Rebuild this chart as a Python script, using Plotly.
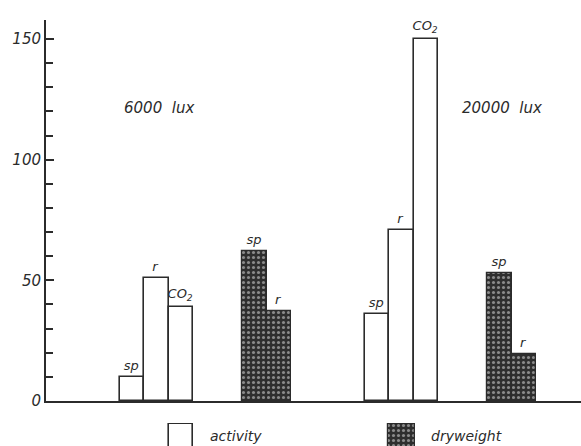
import plotly.graph_objects as go

# ---- data ----
conditions = ["6000 lux", "20000 lux"]
activity_labels = ["sp", "r", "CO<sub>2</sub>"]
activity_6000 = [10, 51, 39]
activity_20000 = [36, 71, 150]
dryweight_labels = ["sp", "r"]
dryweight_6000 = [62, 37.5]
dryweight_20000 = [53, 19.5]
y_tick_values = [0, 50, 100, 150]
legend_names = ["activity", "dryweight"]

# ---- layout helpers (slot index where each bar group starts) ----
group_start = {"activity": [3, 13], "dryweight": [8, 18]}
legend_slot = [5, 14]

INK = "#2b2b2b"
FONT = "DejaVu Sans"
H, T, B = 446, 20, 0
PLOT_H = H - T - B


def slots(starts, n):
    xs = []
    for s in starts:
        xs += [s + i + 0.5 for i in range(n)]
    return xs


act_x = slots(group_start["activity"], len(activity_labels))
act_y = activity_6000 + activity_20000
act_t = activity_labels * 2

dry_x = slots(group_start["dryweight"], len(dryweight_labels))
dry_y = dryweight_6000 + dryweight_20000
dry_t = dryweight_labels * 2

act_marker = dict(color="white", line=dict(color=INK, width=1.6))
dry_marker = dict(color="#2e2e2e", line=dict(color=INK, width=1.2),
                  pattern=dict(shape=".", fgcolor="#e8e8e8", bgcolor="#2e2e2e",
                               size=5, solidity=0.3, fillmode="overlay"))
label_font = dict(family=FONT, size=13, color=INK, style="italic")

fig = go.Figure()
fig.add_trace(go.Bar(
    x=act_x, y=act_y, text=act_t, name="activity", showlegend=False,
    width=1, textposition="outside", constraintext="none", cliponaxis=False,
    textfont=label_font, marker=act_marker,
))
fig.add_trace(go.Bar(
    x=dry_x, y=dry_y, text=dry_t, name="dryweight", showlegend=False,
    width=1, textposition="outside", constraintext="none", cliponaxis=False,
    textfont=label_font, marker=dry_marker,
))

# legend swatches (drawn as bars on a small axis below the chart)
for slot, name, mk, w in zip(legend_slot, legend_names, [act_marker, dry_marker], [1.0, 1.1]):
    fig.add_trace(go.Bar(x=[slot + 0.5], y=[1.2], base=[-0.2], width=w, marker=mk,
                         xaxis="x2", yaxis="y2", showlegend=False, hoverinfo="skip"))
    fig.add_annotation(x=slot + 0.5 + w / 2 + 0.6, y=0.45, xref="x2", yref="y2",
                       text=name, showarrow=False, xanchor="left",
                       font=dict(family=FONT, size=14, color=INK, style="italic"))

label_x = [4.6, 18.6]
for cx, txt in zip(label_x, conditions):
    fig.add_annotation(x=cx, y=121.5, text=txt.replace(" ", "  "), showarrow=False,
                       font=dict(family=FONT, size=15, color=INK, style="italic"))

x_range = [0, 535 / 24.5]
fig.update_layout(
    width=581, height=H,
    margin=dict(l=46, r=0, t=T, b=B, autoexpand=False),
    paper_bgcolor="white", plot_bgcolor="white",
    barmode="overlay", bargap=0,
    font=dict(family=FONT, color=INK),
    showlegend=False,
    xaxis=dict(range=x_range, showline=True, linecolor=INK, linewidth=2,
               showticklabels=False, ticks="", showgrid=False, zeroline=False,
               fixedrange=True, anchor="y"),
    yaxis=dict(domain=[45 / PLOT_H, 1], range=[0, 381 / 2.413], showline=True,
               linecolor=INK, linewidth=2,
               tickvals=y_tick_values, ticks="inside", ticklen=8, tickwidth=2,
               tickcolor=INK, showgrid=False, zeroline=False,
               tickfont=dict(family=FONT, size=15, color=INK, style="italic"),
               minor=dict(dtick=10, tick0=0, ticks="inside", ticklen=7, tickwidth=2,
                          tickcolor=INK, showgrid=False)),
    xaxis2=dict(range=x_range, anchor="y2", visible=False, fixedrange=True),
    yaxis2=dict(domain=[0, 23 / PLOT_H], range=[0, 1.05], anchor="x2",
                visible=False, fixedrange=True),
)

fig.write_html(
    "out.html",
    config={"displayModeBar": False},
    post_script="document.body.style.margin='0';document.body.style.overflow='hidden';",
)
